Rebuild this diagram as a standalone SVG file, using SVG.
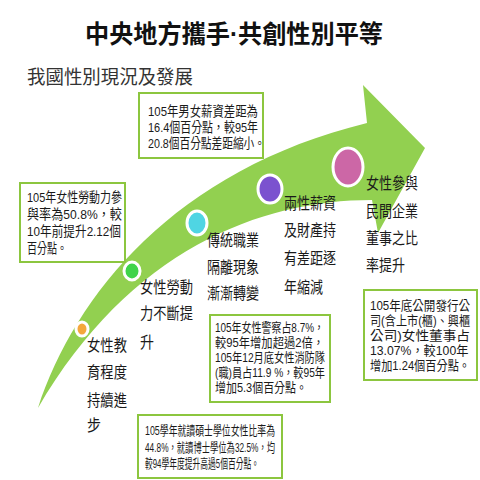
<svg xmlns="http://www.w3.org/2000/svg" width="480" height="480" viewBox="0 0 480 480" lang="zh-TW" xml:lang="zh-TW">
<style>
text{font-family:"Liberation Sans","Noto Sans CJK TC",sans-serif;fill:#1a1a1a}
.bx{fill:#fff;stroke:#8cc63f;stroke-width:2}
.bt{font-size:13px}
.bt2{font-size:13.5px}
.lb{font-size:16px}
.dot{stroke:#fff;stroke-width:3}
</style>
<rect width="480" height="480" fill="#fff"/>
<text x="85" y="43" font-size="25" font-weight="bold" textLength="298" lengthAdjust="spacingAndGlyphs" style="fill:#111">中央地方攜手·共創性別平等</text>
<text x="27" y="84" font-size="19" textLength="166" lengthAdjust="spacingAndGlyphs" style="fill:#333">我國性別現況及發展</text>
<g id="connectors">
<path id="arrow" d="M38,408 C75,295 175,170 367,123 L363,85 L425,148 L378,233 L372,200 C260,200 130,250 38,408 Z" fill="#92d050"/>
</g>
<g id="n1" class="lb"><ellipse class="dot" cx="82" cy="329" rx="6" ry="7" fill="#f4a83c"/>
<text class="lb" x="87" y="351" textLength="40" lengthAdjust="spacingAndGlyphs">女性教</text>
<text class="lb" x="87" y="378" textLength="40" lengthAdjust="spacingAndGlyphs">育程度</text>
<text class="lb" x="87" y="406" textLength="40" lengthAdjust="spacingAndGlyphs">持續進</text>
<text class="lb" x="87" y="431" textLength="14" lengthAdjust="spacingAndGlyphs">步</text></g>
<g id="n2"><ellipse class="dot" cx="132" cy="271" rx="8" ry="9" fill="#3fd44a"/>
<text class="lb" x="140" y="293" textLength="53" lengthAdjust="spacingAndGlyphs">女性勞動</text>
<text class="lb" x="140" y="319" textLength="53" lengthAdjust="spacingAndGlyphs">力不斷提</text>
<text class="lb" x="140" y="348" textLength="14" lengthAdjust="spacingAndGlyphs">升</text></g>
<g id="n3"><ellipse class="dot" cx="197" cy="223" rx="10" ry="12" fill="#4fd5e3"/>
<text class="lb" x="207" y="246" textLength="52" lengthAdjust="spacingAndGlyphs">傳統職業</text>
<text class="lb" x="207" y="273" textLength="52" lengthAdjust="spacingAndGlyphs">隔離現象</text>
<text class="lb" x="207" y="299" textLength="52" lengthAdjust="spacingAndGlyphs">漸漸轉變</text></g>
<g id="n4"><ellipse class="dot" cx="270" cy="189" rx="12" ry="14" fill="#7b52cf"/>
<text class="lb" x="284" y="209" textLength="52" lengthAdjust="spacingAndGlyphs">兩性薪資</text>
<text class="lb" x="284" y="236" textLength="52" lengthAdjust="spacingAndGlyphs">及財產持</text>
<text class="lb" x="284" y="264" textLength="52" lengthAdjust="spacingAndGlyphs">有差距逐</text>
<text class="lb" x="284" y="293" textLength="39" lengthAdjust="spacingAndGlyphs">年縮減</text></g>
<g id="n5"><ellipse class="dot" cx="348" cy="167" rx="15" ry="19" fill="#cc67a6"/>
<text class="lb" x="366" y="189" textLength="52" lengthAdjust="spacingAndGlyphs">女性參與</text>
<text class="lb" x="366" y="217" textLength="52" lengthAdjust="spacingAndGlyphs">民間企業</text>
<text class="lb" x="366" y="244" textLength="52" lengthAdjust="spacingAndGlyphs">董事之比</text>
<text class="lb" x="366" y="271" textLength="39" lengthAdjust="spacingAndGlyphs">率提升</text></g>
<g id="b1"><rect class="bx" x="139" y="93" width="124" height="65"/>
<text class="bt2" x="148" y="116" textLength="110" lengthAdjust="spacingAndGlyphs">105年男女薪資差距為</text>
<text class="bt2" x="148" y="132" textLength="110" lengthAdjust="spacingAndGlyphs">16.4個百分點，較95年</text>
<text class="bt2" x="148" y="148" textLength="117" lengthAdjust="spacingAndGlyphs">20.8個百分點差距縮小。</text></g>
<g id="b2"><rect class="bx" x="20" y="183" width="105" height="79"/>
<text class="bt2" x="27" y="202" textLength="95" lengthAdjust="spacingAndGlyphs">105年女性勞動力參</text>
<text class="bt2" x="27" y="219" textLength="95" lengthAdjust="spacingAndGlyphs">與率為50.8%，較</text>
<text class="bt2" x="27" y="236" textLength="94" lengthAdjust="spacingAndGlyphs">10年前提升2.12個</text>
<text class="bt2" x="27" y="253" textLength="40" lengthAdjust="spacingAndGlyphs">百分點。</text></g>
<g id="b3"><rect class="bx" x="138" y="415" width="144" height="63"/>
<text class="bt" x="145" y="435" textLength="130" lengthAdjust="spacingAndGlyphs">105學年就讀碩士學位女性比率為</text>
<text class="bt" x="145" y="452" textLength="130" lengthAdjust="spacingAndGlyphs">44.8%，就讀博士學位為32.5%，均</text>
<text class="bt" x="145" y="468" textLength="114" lengthAdjust="spacingAndGlyphs">較94學年度提升高過5個百分點。</text></g>
<g id="b4"><rect class="bx" x="210" y="315" width="120" height="87"/>
<text class="bt" x="215" y="332" textLength="109" lengthAdjust="spacingAndGlyphs">105年女性警察占8.7%，</text>
<text class="bt" x="215" y="347" textLength="109" lengthAdjust="spacingAndGlyphs">較95年增加超過2倍，</text>
<text class="bt" x="215" y="362" textLength="110" lengthAdjust="spacingAndGlyphs">105年12月底女性消防隊</text>
<text class="bt" x="215" y="377" textLength="110" lengthAdjust="spacingAndGlyphs">(職)員占11.9 %，較95年</text>
<text class="bt" x="215" y="392" textLength="92" lengthAdjust="spacingAndGlyphs">增加5.3個百分點。</text></g>
<g id="b5"><rect class="bx" x="364" y="290" width="113" height="90"/>
<g transform="translate(370 0) scale(0.8 1)">
<text class="bt" x="0" y="310" textLength="125" lengthAdjust="spacingAndGlyphs">105年底公開發行公</text>
<text class="bt" x="0" y="325" textLength="125" lengthAdjust="spacingAndGlyphs">司(含上市(櫃)、興櫃</text>
<text class="bt" x="0" y="340" textLength="125" lengthAdjust="spacingAndGlyphs">公司)女性董事占</text>
<text class="bt" x="0" y="355" textLength="123" lengthAdjust="spacingAndGlyphs">13.07%，較100年</text>
<text class="bt" x="0" y="370" textLength="125" lengthAdjust="spacingAndGlyphs">增加1.24個百分點。</text></g></g>
</svg>
